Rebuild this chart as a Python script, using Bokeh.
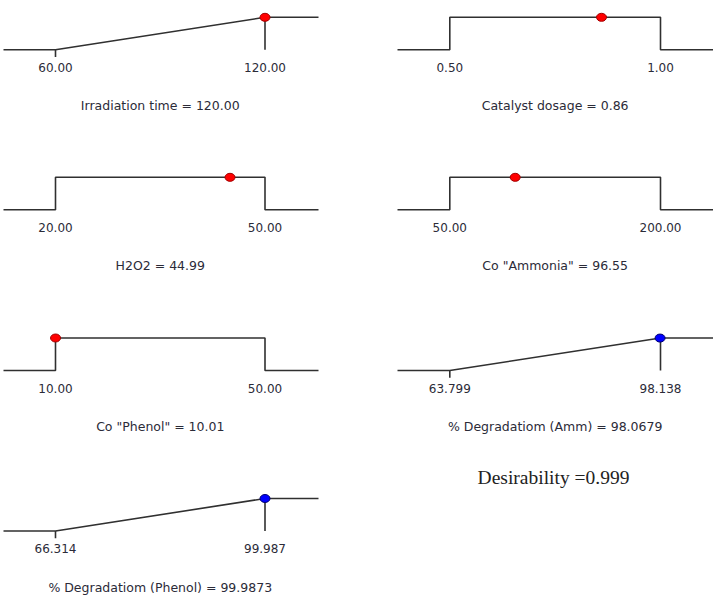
from bokeh.plotting import figure
from bokeh.models import Range1d
from bokeh.core.properties import value
from bokeh.embed import file_html
from bokeh.resources import INLINE

# ---- data -------------------------------------------------------------
names = ["Irradiation time", "Catalyst dosage", "H2O2", 'Co "Ammonia"',
         'Co "Phenol"', "% Degradatiom (Amm)", "% Degradatiom (Phenol)"]
lows = [60.0, 0.50, 20.0, 50.0, 10.0, 63.799, 66.314]
highs = [120.0, 1.00, 50.0, 200.0, 50.0, 98.138, 99.987]
settings = [120.00, 0.86, 44.99, 96.55, 10.01, 98.0679, 99.9873]
limit_labels = [("60.00", "120.00"), ("0.50", "1.00"), ("20.00", "50.00"),
                ("50.00", "200.00"), ("10.00", "50.00"), ("63.799", "98.138"),
                ("66.314", "99.987")]
setting_labels = ["120.00", "0.86", "44.99", "96.55", "10.01", "98.0679", "99.9873"]
goals = ["maximize", "in range", "in range", "in range", "in range",
         "maximize", "maximize"]
kinds = ["factor"] * 5 + ["response"] * 2
desirability = 0.999

# ---- layout -----------------------------------------------------------
W, H = 715, 596
# per column: screen x of the low limit, high limit, line start, line end
COLS = [(55.0, 264.5, 3.0, 318.0), (449.3, 660.0, 397.0, 712.5)]
ROW_BASE = [49.3, 209.3, 370.0, 530.5]   # baseline, px from top
UNIT = 32.5                              # px for desirability 0 -> 1

LINE = "#303030"
TEXT = "#2b2b38"
FONT = value("DejaVu Sans")

p = figure(width=W, height=H, output_backend="svg", toolbar_location=None,
           x_range=Range1d(0, W), y_range=Range1d(0, H), min_border=0)
p.axis.visible = False
p.grid.visible = False
p.outline_line_color = None
p.background_fill_color = "white"
p.border_fill_color = "white"

for i, name in enumerate(names):
    col, rw = i % 2, i // 2
    lo_px, hi_px, left_px, right_px = COLS[col]
    lo, hi = lows[i], highs[i]
    sx = (hi_px - lo_px) / (hi - lo)
    xs0 = lo - lo_px / sx
    xr, yr = f"x{i}", f"y{i}"
    p.extra_x_ranges[xr] = Range1d(xs0, xs0 + W / sx)
    b = H - ROW_BASE[rw]
    ys0 = -b / UNIT
    p.extra_y_ranges[yr] = Range1d(ys0, ys0 + H / UNIT)

    x_left = lo - (lo_px - left_px) / sx
    x_right = hi + (right_px - hi_px) / sx
    kw = dict(x_range_name=xr, y_range_name=yr)

    if goals[i] == "maximize":
        p.line([x_left, lo, hi, x_right], [0, 0, 1, 1],
               line_color=LINE, line_width=1.6, **kw)
        p.segment(x0=[hi, lo], y0=[0, 0], x1=[hi, lo], y1=[1, -0.22],
                  line_color=LINE, line_width=1.6, **kw)
        d = min(max((settings[i] - lo) / (hi - lo), 0.0), 1.0)
    else:
        p.line([x_left, lo, lo, hi, hi, x_right], [0, 0, 1, 1, 0, 0],
               line_color=LINE, line_width=1.6, **kw)
        d = 1.0

    if kinds[i] == "factor":
        fill, edge = "#ff0000", "#a00000"
    else:
        fill, edge = "#0000ff", "#000070"
    p.ellipse(x=[settings[i]], y=[d], width=10, height=8,
              width_units="screen", height_units="screen",
              fill_color=fill, line_color=edge, line_width=1, **kw)

    p.text(x=[lo, hi], y=[0, 0], text=list(limit_labels[i]),
           y_offset=17.5, text_align="center", text_baseline="middle",
           text_font=FONT, text_font_size="12px", text_color=TEXT, **kw)
    p.text(x=[(lo + hi) / 2], y=[0], text=[f"{name} = {setting_labels[i]}"],
           y_offset=56, text_align="center", text_baseline="middle",
           text_font=FONT, text_font_size="12.5px", text_color=TEXT, **kw)

# overall desirability, in the free slot of the last row
p.text(x=[553], y=[H - 477], text=[f"Desirability ={desirability:.3f}"],
       text_align="center", text_baseline="middle",
       text_font=value("Liberation Serif"), text_font_size="19.5px",
       text_color="#222222")

open("out.html", "w").write(file_html(p, INLINE))
